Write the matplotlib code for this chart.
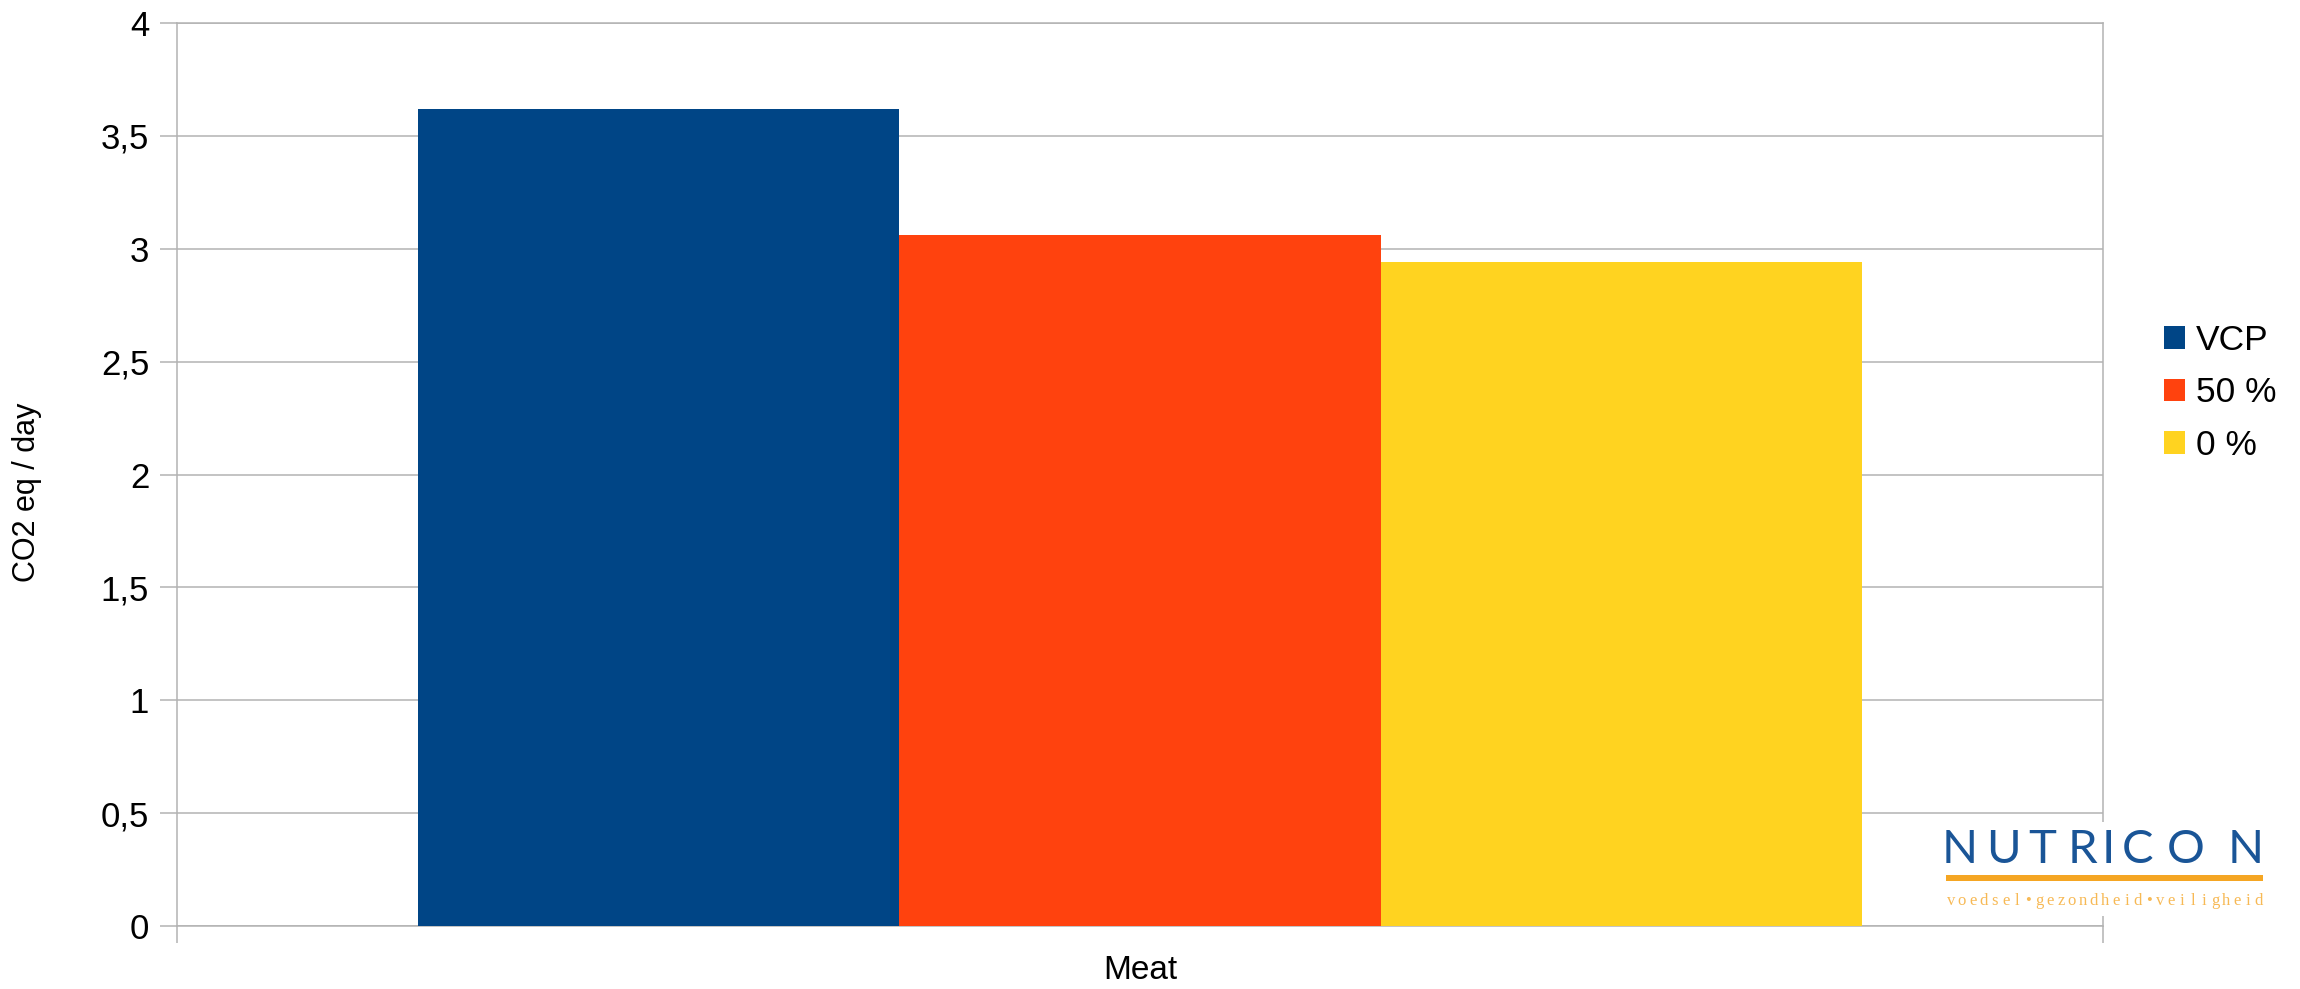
import matplotlib
matplotlib.use("Agg")
import matplotlib.pyplot as plt
from matplotlib.patches import Rectangle
from matplotlib.ticker import FixedLocator

plt.rcParams['font.family'] = ['Liberation Sans', 'DejaVu Sans']

# ---- data ----
categories = ["Meat"]
series_names = ["VCP", "50 %", "0 %"]
series_values = [[3.62], [3.06], [2.94]]
series_colors = ["#004586", "#ff420e", "#ffd320"]
y_ticks = [0, 0.5, 1, 1.5, 2, 2.5, 3, 3.5, 4]
y_tick_labels = ["0", "0,5", "1", "1,5", "2", "2,5", "3", "3,5", "4"]
y_label = "CO2 eq / day"

W, H = 2300, 989
fig = plt.figure(figsize=(W / 100, H / 100), dpi=100)
fig.patch.set_facecolor("white")

ax = fig.add_axes([177 / W, (H - 926) / H, (2103 - 177) / W, (926 - 23) / H])
grid_c = "#b3b3b3"

n = len(series_names)
bw = 0.75 / n
x = list(range(len(categories)))
handles = []
for i, (name, vals, col) in enumerate(zip(series_names, series_values, series_colors)):
    off = (i - (n - 1) / 2) * bw
    b = ax.bar([xi + off for xi in x], vals, width=bw, color=col, label=name,
               zorder=3, linewidth=0)
    handles.append(b)

ax.set_xlim(-0.5, len(categories) - 0.5)
ax.set_ylim(0, 4)
ax.set_yticks(y_ticks)
ax.set_yticklabels(y_tick_labels)
ax.yaxis.grid(True, color=grid_c, linewidth=1.1, zorder=0)
ax.set_axisbelow(True)

ax.set_xticks(x)
ax.set_xticklabels(categories)
ax.xaxis.set_minor_locator(FixedLocator([xi - 0.5 for xi in x] + [len(categories) - 0.5]))
ax.tick_params(axis='x', which='major', length=0, pad=21, labelsize=24, labelcolor="#000000")
ax.tick_params(axis='x', which='minor', length=12, width=1.1, color=grid_c, direction='out')
ax.tick_params(axis='y', length=12, width=1.1, color=grid_c, direction='out', pad=8,
               labelsize=25, labelcolor="#000000")

for s in ["left", "right", "bottom", "top"]:
    ax.spines[s].set_color(grid_c)
    ax.spines[s].set_linewidth(1.1)

fig.text(27 / W, 1 - 492 / H, y_label, rotation=90, ha='center', va='center',
         fontsize=22, color="#000000")

leg = fig.legend(handles=handles, labels=series_names, loc='center left',
                 bbox_to_anchor=(2164 / W, 1 - 393 / H), frameon=False,
                 fontsize=25.5, handlelength=0.6, handleheight=0.6,
                 handletextpad=0.3, labelspacing=0.55, borderpad=0, borderaxespad=0)

# ---- NUTRICON logo (decoration) ----
fig.add_artist(Rectangle((1935 / W, 1 - 916 / H), 340 / W, 94 / H,
                         transform=fig.transFigure, facecolor="white",
                         edgecolor="none", zorder=5))
logo_letters = "NUTRICON"
logo_centers = [1960, 2003, 2042, 2082, 2108, 2137, 2186, 2246]
for ch, cx in zip(logo_letters, logo_centers):
    fig.text(cx / W, 1 - 850 / H, ch, ha='center', va='center', fontsize=34,
             color="#1a5597", family=['Lato', 'DejaVu Sans'], fontweight='normal', zorder=6)
fig.add_artist(Rectangle((1946 / W, 1 - 881 / H), 317 / W, 6 / H,
                         transform=fig.transFigure, facecolor="#f5a623",
                         edgecolor="none", zorder=6))
sub = "voedsel•gezondheid•veiligheid"
x0, x1 = 1951, 2259
step = (x1 - x0) / (len(sub) - 1)
for i, ch in enumerate(sub):
    fig.text((x0 + i * step) / W, 1 - 901 / H, ch, ha='center', va='center', fontsize=12,
             color="#f7b955", family=['Liberation Serif', 'DejaVu Serif'], zorder=6)

fig.savefig("out.png", dpi=100, facecolor="white")
